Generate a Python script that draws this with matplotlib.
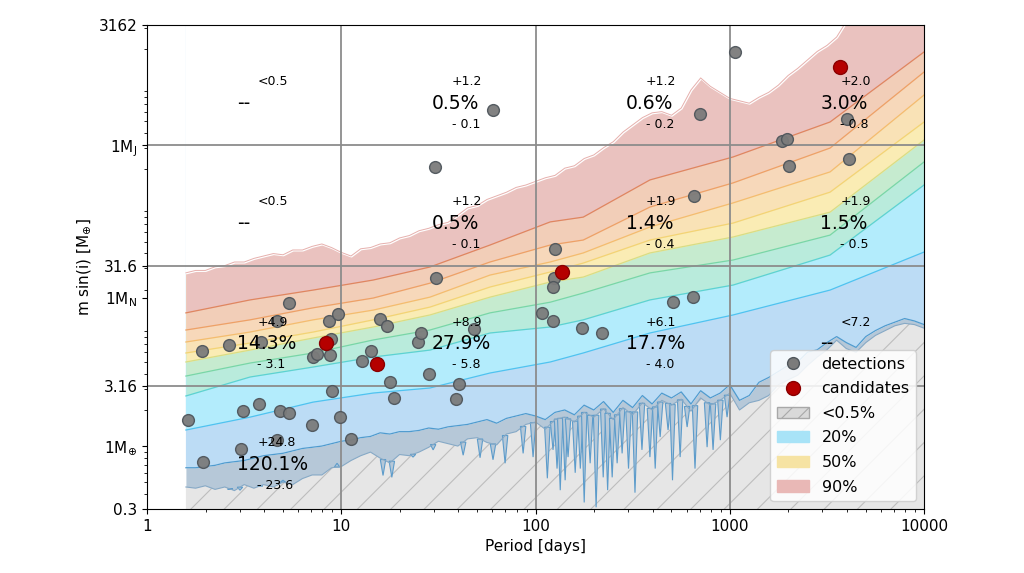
import numpy as np
import matplotlib
matplotlib.use('Agg')
import matplotlib.pyplot as plt
from matplotlib.lines import Line2D
from matplotlib.patches import Patch

plt.rcParams['hatch.linewidth'] = 0.8

# ---------------- data ----------------
# dense period grid of the sensitivity map [days]
period_grid = [1.585, 1.778, 1.995, 2.239, 2.512, 2.818, 3.162, 3.548, 3.981, 4.467,
               5.012, 5.623, 6.310, 7.079, 7.943, 8.913, 10.0, 11.22, 12.59, 14.13,
               15.85, 17.78, 19.95, 22.39, 25.12, 28.18, 31.62, 35.48, 39.81, 44.67,
               50.12, 56.23, 63.10, 70.79, 79.43, 89.13, 100.0, 112.2, 125.9, 141.3,
               158.5, 177.8, 199.5, 223.9, 251.2, 281.8, 316.2, 354.8, 398.1, 446.7,
               501.2, 562.3, 631.0, 707.9, 794.3, 891.3, 1000, 1122, 1259, 1413,
               1585, 1778, 1995, 2239, 2512, 2818, 3162, 3548, 3981, 4467,
               5012, 5623, 6310, 7079, 7943, 8913, 10000]

# log10 of m sin(i) [M_earth] : upper edge of the 90% region
red_top_log_m = [1.44, 1.46, 1.46, 1.49, 1.50, 1.53, 1.53, 1.56, 1.58, 1.60,
                 1.59, 1.63, 1.63, 1.66, 1.68, 1.65, 1.61, 1.58, 1.64, 1.65,
                 1.68, 1.69, 1.73, 1.75, 1.79, 1.81, 1.84, 1.86, 1.92, 1.98,
                 2.00, 2.05, 2.08, 2.11, 2.15, 2.17, 2.20, 2.23, 2.25, 2.31,
                 2.33, 2.39, 2.42, 2.48, 2.53, 2.61, 2.67, 2.73, 2.77, 2.78,
                 2.75, 2.81, 2.96, 3.06, 2.99, 2.94, 2.89, 2.87, 2.85, 2.90,
                 2.94, 3.00, 3.08, 3.14, 3.21, 3.28, 3.33, 3.40, 3.53, 3.70,
                 3.70, 3.70, 3.70, 3.70, 3.70, 3.70, 3.70]

# log10 mass of the 0.5% contour (upper edge of the grey-blue strip)
low_edge_log_m = [-0.18, -0.18, -0.17, -0.16, -0.14, -0.13, -0.12, -0.10, -0.08, -0.07,
                  -0.06, -0.04, -0.02, -0.01, 0.00, 0.02, 0.04, 0.05, 0.07, 0.08,
                  0.11, 0.10, 0.12, 0.12, 0.13, 0.15, 0.14, 0.16, 0.17, 0.18,
                  0.20, 0.22, 0.19, 0.23, 0.25, 0.27, 0.25, 0.22, 0.28, 0.30,
                  0.26, 0.34, 0.30, 0.37, 0.28, 0.38, 0.32, 0.42, 0.35, 0.44,
                  0.40, 0.45, 0.35, 0.46, 0.40, 0.44, 0.51, 0.38, 0.42, 0.53,
                  0.57, 0.62, 0.67, 0.70, 0.78, 0.80, 0.86, 0.91, 0.86, 0.82,
                  0.91, 0.96, 1.00, 1.03, 1.06, 1.04, 1.01]

# log10 mass of the lower edge of the computed map (top of the light grey zone)
floor_log_m = [-0.34, -0.35, -0.33, -0.36, -0.34, -0.37, -0.32, -0.35, -0.32, -0.34,
               -0.30, -0.32, -0.27, -0.24, -0.24, -0.18, -0.17, -0.12, -0.08, -0.05,
               -0.10, -0.14, -0.07, -0.08, -0.05, -0.01, 0.04, 0.02, 0.00, 0.06,
               0.07, 0.03, 0.01, 0.10, 0.12, 0.18, 0.20, 0.14, 0.22, 0.24,
               0.20, 0.28, 0.24, 0.31, 0.22, 0.32, 0.26, 0.36, 0.30, 0.38,
               0.34, 0.39, 0.29, 0.40, 0.34, 0.38, 0.44, 0.30, 0.36,
               0.38, 0.42, 0.51, 0.55, 0.59, 0.67, 0.74, 0.80, 0.88, 0.81,
               0.78, 0.86, 0.92, 0.96, 1.00, 1.02, 1.01, 0.98]

# narrow downward dips of the 0.5% contour: period [d] and lowest mass [M_earth]
dip_period = [2.68, 3.01, 3.82, 5.01, 9.51, 16.4, 18.2, 23.4, 29.7, 42.4, 51.8, 60.4,
              69.7, 86.3, 97.1, 115, 123, 129, 134, 142, 147, 160, 170, 178, 191,
              205, 223, 235, 248, 263, 279, 301, 325, 353, 388, 413, 438, 481, 507,
              555, 603, 662, 764, 820, 894, 968]
dip_mass = [0.44, 0.43, 0.47, 0.52, 0.72, 0.57, 0.55, 0.81, 0.93, 0.84, 0.80, 0.77,
            0.72, 0.87, 0.81, 0.54, 0.93, 0.65, 0.43, 0.52, 0.81, 0.60, 0.65, 0.34, 0.72,
            0.31, 0.55, 0.43, 0.55, 0.72, 0.87, 0.65, 0.41, 0.93, 0.81, 0.65, 1.19, 1.36, 0.52,
            0.81, 1.44, 0.65, 0.98, 0.93, 1.12, 1.74]

# coarse period columns for the intermediate sensitivity contours
period_cols = [1.585, 3.39, 7.16, 14.6, 28.6, 58.3, 119, 176, 388, 1040, 3281, 10000]
c90 = [12.8, 16.4, 19.8, 24.0, 30.8, 46.9, 73, 80, 163, 253, 494, 1888]
c80 = [9.22, 11.2, 14.1, 17.0, 22.6, 33.9, 46.9, 51.6, 97, 154, 300, 1286]
c70 = [7.33, 8.87, 11.2, 13.5, 17.3, 26.4, 33.9, 40.3, 66.2, 105, 190, 828]
c60 = [5.94, 7.19, 8.87, 11.2, 14.3, 21.0, 28.0, 33.2, 51.6, 71.4, 129, 494]
c50 = [5.00, 6.28, 7.91, 9.77, 12.3, 17.3, 23.1, 25.4, 40.3, 54.7, 88, 350]
c40 = [3.82, 4.90, 5.94, 7.62, 9.22, 12.8, 15.7, 18.7, 27.5, 35.2, 56.7, 230]
c30 = [2.61, 3.75, 4.54, 5.50, 6.28, 8.71, 9.77, 11.2, 16.4, 21.8, 38.7, 148]
c20 = [1.36, 1.74, 2.32, 2.76, 3.04, 4.05, 5.00, 5.94, 8.71, 12.3, 19.8, 41.0]

det_period = [1.63, 1.94, 1.92, 2.64, 3.05, 3.12, 3.77, 4.67, 3.86, 4.84, 5.38, 5.38, 4.67,
              7.07, 7.16, 7.50, 8.65, 8.75, 8.85, 8.96, 9.62, 9.86, 11.2, 12.8, 14.2,
              15.8, 17.2, 17.8, 18.7, 24.8, 25.7, 28.3, 40.4, 39.0, 48.2, 30.7, 30.4,
              60.4, 108, 123, 126, 124, 123, 173, 220, 510, 647, 655, 703, 1064,
              1858, 1972, 2018, 4014, 4111]
det_mass = [1.65, 0.74, 6.17, 6.92, 0.94, 1.95, 2.24, 10.96, 7.33, 1.95, 1.88, 15.5, 1.12,
            1.50, 5.50, 5.82, 10.96, 5.71, 7.76, 2.87, 12.5, 1.74, 1.15, 5.09, 6.17,
            11.4, 9.95, 3.40, 2.51, 7.33, 8.71, 3.97, 3.28, 2.46, 9.40, 24.9, 209,
            622, 12.8, 11.0, 43.4, 24.9, 21.0, 9.58, 8.71, 15.7, 17.3, 120, 575, 1888,
            344, 357, 213, 524, 243]
cand_period = [8.35, 15.3, 137, 3697]
cand_mass = [7.19, 4.81, 28.0, 1416]

# occurrence rates per cell (rows: top -> bottom mass bins, cols: period decades)
rate_main = [['--', '0.5%', '0.6%', '3.0%'],
             ['--', '0.5%', '1.4%', '1.5%'],
             ['14.3%', '27.9%', '17.7%', '--'],
             ['120.1%', '', '', '']]
rate_up = [['<0.5', '+1.2', '+1.2', '+2.0'],
           ['<0.5', '+1.2', '+1.9', '+1.9'],
           ['+4.9', '+8.9', '+6.1', '<7.2'],
           ['+24.8', '', '', '']]
rate_down = [['', '- 0.1', '- 0.2', '- 0.8'],
             ['', '- 0.1', '- 0.4', '- 0.5'],
             ['- 3.1', '- 5.8', '- 4.0', ''],
             ['- 23.6', '', '', '']]

x_ticks = [1, 10, 100, 1000, 10000]
x_ticklabels = ['1', '10', '100', '1000', '10000']
y_ticks = [0.3, 1, 3.16, 17.15, 31.6, 317.8, 3162]
y_ticklabels = ['0.3', r'1M$_{\oplus}$', '3.16', r'1M$_{\rm N}$', '31.6', r'1M$_{\rm J}$', '3162']

# ---------------- plot ----------------
fig = plt.figure(figsize=(10.24, 5.73), dpi=100)
ax = fig.add_axes([0.1436, 0.1117, 0.7588, 0.8447])
ax.set_xscale('log')
ax.set_yscale('log')

Pd = np.array(period_grid)
top = 10 ** np.array(red_top_log_m)
edge = 10 ** np.array(low_edge_log_m)
floor = 10 ** np.array(floor_log_m)
Pc = np.array(period_cols)
HI = 1e5

ax.fill_between(Pd, edge, HI, color='#bcdcf5', lw=0, zorder=1)
bands = [(c20, '#b3ecfc', '#4fc3f0'),
         (c30, '#b9ebdc', '#5cd2d3'),
         (c40, '#c6ebcf', '#78d6a8'),
         (c50, '#faecb4', '#d9dd84'),
         (c60, '#f9e2b6', '#f3d474'),
         (c70, '#f7d8ba', '#f4bd6e'),
         (c80, '#f2ceb8', '#eea166'),
         (c90, '#eac2bf', '#e0865f')]
for vals, fc, lc in bands:
    ax.fill_between(Pc, vals, HI, color=fc, lw=0, zorder=1)
for vals, fc, lc in bands:
    ax.plot(Pc, vals, color=lc, lw=0.9, zorder=1.2)

ax.fill_between(Pd, top, HI, facecolor='white', edgecolor='white', lw=1.5, zorder=1.3)
ax.plot(Pd, top, color='#e6b0ad', lw=0.7, zorder=1.3)

ax.fill_between(Pd, floor, edge, color='#b6c8d8', lw=0, zorder=1.4)
ax.fill_between(Pd, 0.01, floor, facecolor='#e6e6e6', edgecolor='#bdbdbd',
                hatch='/', lw=0, zorder=1.4)
# narrow dips as thin wedges
floor_at_dip = 10 ** np.interp(np.log10(dip_period), np.log10(Pd), floor_log_m)
half_w = 10 ** 0.014
for p, m, b in zip(dip_period, dip_mass, floor_at_dip):
    ax.fill([p / half_w, p, p * half_w], [b, m, b], facecolor='#b6c8d8',
            edgecolor='#5d9ccb', lw=0.8, zorder=1.45)
ax.plot(Pd, edge, color='#4f9bcf', lw=0.9, zorder=1.5)
ax.plot(Pd, floor, color='#86a9c6', lw=0.8, zorder=1.5)

for xv in [10, 100, 1000]:
    ax.axvline(xv, color='#8c8c8c', lw=1.3, zorder=2)
for yv in [3.16, 31.6, 317.8]:
    ax.axhline(yv, color='#8c8c8c', lw=1.3, zorder=2)

ax.scatter(det_period, det_mass, s=72, facecolor='#7b7b7b', edgecolor='#4f565c',
           linewidth=1.0, alpha=0.95, zorder=3)
ax.scatter(cand_period, cand_mass, s=100, facecolor='#b50000', edgecolor='#8a0000',
           linewidth=1.0, zorder=3)

for r in range(4):
    ym = 10 ** (2.85 - r)
    for c in range(4):
        xl = 2.92 * 10 ** c
        xs = 3.7 * 10 ** c
        if rate_main[r][c]:
            ax.text(xl, ym, rate_main[r][c], fontsize=13.5, ha='left', va='center', zorder=4)
        if rate_up[r][c]:
            ax.text(xs, ym * 10 ** 0.18, rate_up[r][c], fontsize=9, ha='left', va='center', zorder=4)
        if rate_down[r][c]:
            ax.text(xs, ym / 10 ** 0.175, rate_down[r][c], fontsize=9, ha='left', va='center', zorder=4)

ax.set_xlim(1, 10000)
ax.set_ylim(0.3, 3162)
ax.set_xticks(x_ticks)
ax.set_xticklabels(x_ticklabels)
ax.set_yticks(y_ticks)
ax.set_yticklabels(y_ticklabels)
ax.tick_params(labelsize=11)
ax.set_xlabel('Period [days]', fontsize=11)
ax.set_ylabel(r'm sin(i) [M$_{\oplus}$]', fontsize=11)

handles = [Line2D([], [], marker='o', ls='', markerfacecolor='#7b7b7b',
                  markeredgecolor='#4f565c', markersize=8.5),
           Line2D([], [], marker='o', ls='', markerfacecolor='#b50000',
                  markeredgecolor='#8a0000', markersize=10),
           Patch(facecolor='#d9d9d9', edgecolor='#a8a8a8', hatch='//'),
           Patch(facecolor='#a8e3f7', edgecolor='#a8e3f7'),
           Patch(facecolor='#f6e3a3', edgecolor='#f6e3a3'),
           Patch(facecolor='#e9b8b6', edgecolor='#e9b8b6')]
labels = ['detections', 'candidates', '<0.5%', '20%', '50%', '90%']
leg = ax.legend(handles, labels, loc='lower right', fontsize=11.5, framealpha=0.85,
                labelspacing=0.6, borderaxespad=0.5)
leg.set_zorder(5)

fig.savefig('out.png', dpi=100)
